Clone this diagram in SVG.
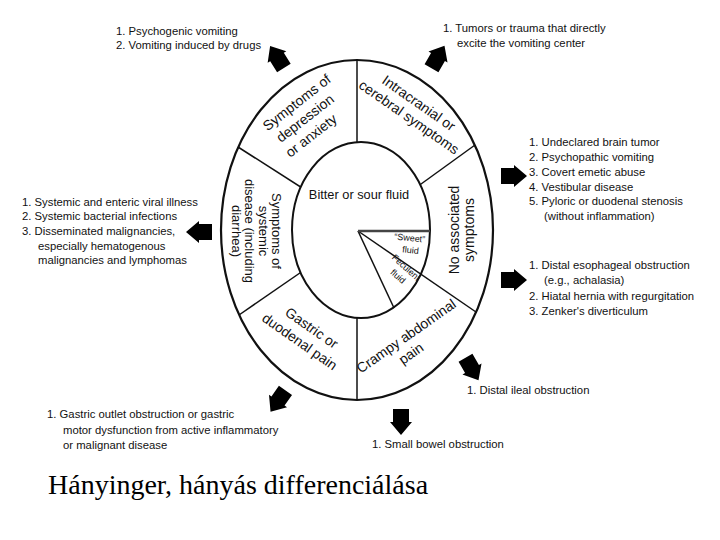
<svg xmlns="http://www.w3.org/2000/svg" width="720" height="540" viewBox="0 0 720 540">
<style>
.lst{font-family:"Liberation Sans",Arial,sans-serif;font-size:11.3px;fill:#111}
.wl{font-family:"Liberation Sans",Arial,sans-serif;font-size:14px;fill:#111;text-anchor:middle}
.sm{font-family:"Liberation Sans",Arial,sans-serif;font-size:9px;fill:#111;text-anchor:middle}
.ln{stroke:#111;stroke-width:1.5;fill:none}
.title{font-family:"Liberation Serif","Times New Roman",serif;font-size:28px;fill:#000}
</style>
<defs>
<path id="arr" d="M-13,-8 H0 V-11 L13,0 L0,11 V8 H-13 Z" fill="#000"/>
</defs>
<rect width="720" height="540" fill="#fff"/>
<g id="wheel">
<ellipse cx="357" cy="230" rx="136" ry="170" fill="#fff" stroke="#111" stroke-width="2.2"/>
<line class="ln" x1="357" y1="60" x2="357" y2="160"/>
<line class="ln" x1="357" y1="300" x2="357" y2="400"/>
<line class="ln" x1="238" y1="147" x2="310" y2="193"/>
<line class="ln" x1="239" y1="315" x2="310" y2="266"/>
<line class="ln" x1="475" y1="145" x2="410" y2="192"/>
<ellipse cx="361" cy="230" rx="69" ry="88" fill="#fff" stroke="#111" stroke-width="2"/>
<line class="ln" x1="358" y1="231" x2="476.7" y2="312.5"/>
<line class="ln" x1="358" y1="231" x2="394" y2="308"/>
<line x1="358" y1="231" x2="430" y2="231" stroke="#444" stroke-width="2.6"/>
</g>
<g id="n-center"><text class="wl" style="font-size:12.8px" x="359" y="199">Bitter or sour fluid</text></g>
<g id="n-sweet" transform="translate(409,245) rotate(6)">
<text class="sm" x="0" y="-4">“Sweet”</text>
<text class="sm" x="2" y="8">fluid</text>
</g>
<g id="n-feculent" transform="translate(402,272) rotate(42)">
<text class="sm" x="0" y="-3">Feculent</text>
<text class="sm" x="0" y="9">fluid</text>
</g>
<g id="n-depression" transform="translate(305,118) rotate(-38)">
<text class="wl" x="3" y="-12.5">Symptoms of</text>
<text class="wl" x="0" y="5">depression</text>
<text class="wl" x="-6" y="22.5">or anxiety</text>
</g>
<g id="n-intracranial" transform="translate(414,110) rotate(35)">
<text class="wl" x="0" y="-3.5">Intracranial or</text>
<text class="wl" x="0" y="13.5">cerebral symptoms</text>
</g>
<g id="n-noassoc" transform="translate(461,230) rotate(-90)">
<text class="wl" x="0" y="-2">No associated</text>
<text class="wl" x="0" y="13">symptoms</text>
</g>
<g id="n-systemic" transform="translate(257,231) rotate(90)" style="font-size:13px">
<text class="wl" style="font-size:13px" x="0" y="-15">Symptoms of</text>
<text class="wl" style="font-size:13px" x="0" y="-1.5">systemic</text>
<text class="wl" style="font-size:13px" x="0" y="12">disease (including</text>
<text class="wl" style="font-size:13px" x="0" y="25.5">diarrhea)</text>
</g>
<g id="n-gastric" transform="translate(305,334) rotate(35)">
<text class="wl" x="2" y="-4">Gastric or</text>
<text class="wl" x="0" y="14">duodenal pain</text>
</g>
<g id="n-crampy" transform="translate(409,340) rotate(-35)">
<text class="wl" x="0" y="0">Crampy abdominal</text>
<text class="wl" x="-6" y="17">pain</text>
</g>
<g id="connectors">
<use href="#arr" transform="translate(277,57) rotate(-122)"/>
<use href="#arr" transform="translate(438,57) rotate(-60)"/>
<use href="#arr" transform="translate(514,176)"/>
<use href="#arr" transform="translate(514,280)"/>
<use href="#arr" transform="translate(199,232) rotate(180)"/>
<use href="#arr" transform="translate(278,401) rotate(125)"/>
<use href="#arr" transform="translate(401,422) rotate(90)"/>
<use href="#arr" transform="translate(472,369) rotate(60)"/>
</g>
<g id="t-topleft" class="lst">
<text x="116" y="35">1.  Psychogenic vomiting</text>
<text x="116" y="49">2.  Vomiting induced by drugs</text>
</g>
<g id="t-topright" class="lst">
<text x="443" y="32">1.  Tumors or trauma that directly</text>
<text x="457" y="47">excite the vomiting center</text>
</g>
<g id="t-right1" class="lst">
<text x="529" y="146">1.  Undeclared brain tumor</text>
<text x="529" y="161">2.  Psychopathic vomiting</text>
<text x="529" y="176">3.  Covert emetic abuse</text>
<text x="529" y="191">4.  Vestibular disease</text>
<text x="529" y="205">5.  Pyloric or duodenal stenosis</text>
<text x="544" y="220">(without inflammation)</text>
</g>
<g id="t-right2" class="lst">
<text x="529" y="269">1.  Distal esophageal obstruction</text>
<text x="544" y="284">(e.g., achalasia)</text>
<text x="529" y="300">2.  Hiatal hernia with regurgitation</text>
<text x="529" y="315">3.  Zenker's diverticulum</text>
</g>
<g id="t-left" class="lst">
<text x="22" y="206">1.  Systemic and enteric viral illness</text>
<text x="22" y="220">2.  Systemic bacterial infections</text>
<text x="22" y="235">3.  Disseminated malignancies,</text>
<text x="38" y="250">especially hematogenous</text>
<text x="38" y="264">malignancies and lymphomas</text>
</g>
<g id="t-bottomleft" class="lst">
<text x="47" y="418">1.  Gastric outlet obstruction or gastric</text>
<text x="63" y="434">motor dysfunction from active inflammatory</text>
<text x="63" y="449">or malignant disease</text>
</g>
<g id="t-ileal" class="lst"><text x="467" y="394">1.  Distal ileal obstruction</text></g>
<g id="t-smallbowel" class="lst"><text x="372" y="448">1.  Small bowel obstruction</text></g>
<text class="title" x="48" y="494">Hányinger, hányás differenciálása</text>
</svg>
